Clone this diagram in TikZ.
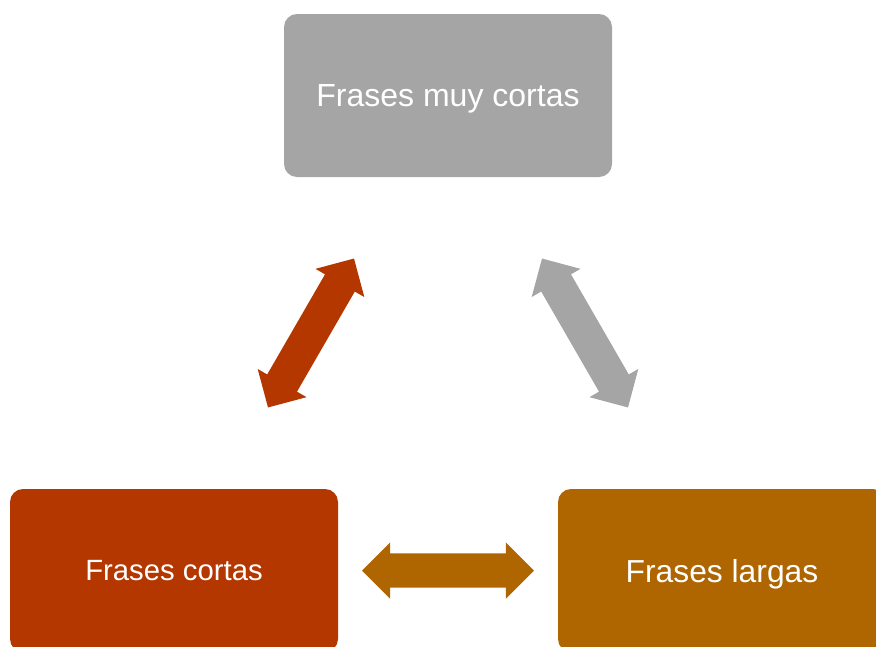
\documentclass[tikz,border=0pt]{standalone}
\usepackage{fontspec}
\setmainfont{Liberation Sans}
\usetikzlibrary{shapes.arrows,calc}
\definecolor{cgray}{HTML}{A5A5A5}
\definecolor{cred}{HTML}{B43700}
\definecolor{cbrown}{HTML}{AF6500}
\begin{document}
\begin{tikzpicture}[
  box/.style={rounded corners=13pt, minimum width=328pt, minimum height=163pt, inner sep=0pt, text=white, text depth=0pt},
  dblarrow/.style={double arrow, double arrow head extend=11pt, minimum height=172pt, minimum width=56pt, inner xsep=0pt, inner ysep=17pt, draw=none}
]
\useasboundingbox (0,0) rectangle (876pt,-646pt);
\clip (0,0) rectangle (876pt,-646pt);
\node[box, fill=cgray, font=\fontsize{32}{38}\selectfont] (top) at (448pt,-95.5pt) {Frases muy cortas};
\node[box, fill=cred, font=\fontsize{29.3}{35}\selectfont] (left) at (174pt,-570.5pt) {Frases cortas};
\node[box, fill=cbrown, font=\fontsize{31.8}{38}\selectfont] (right) at (722pt,-570.5pt) {Frases largas};
\node[dblarrow, fill=cred, rotate=60] (a1) at ($(left)!0.5!(top)$) {};
\node[dblarrow, fill=cgray, rotate=-60] (a2) at ($(top)!0.5!(right)$) {};
\node[dblarrow, fill=cbrown] (a3) at ($(left)!0.5!(right)$) {};
\end{tikzpicture}
\end{document}
